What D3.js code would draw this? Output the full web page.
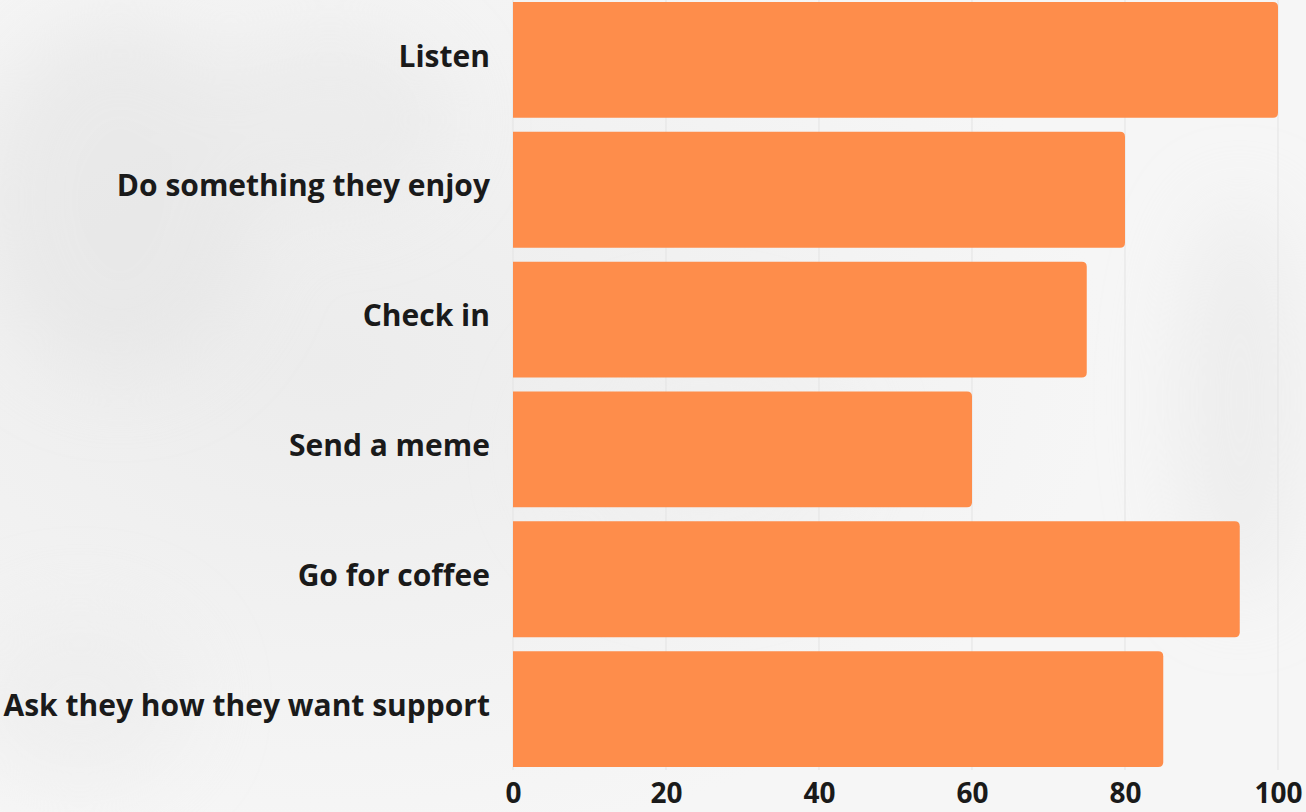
<!DOCTYPE html>
<html>
<head>
<meta charset="utf-8">
<script src="https://cdn.jsdelivr.net/npm/d3@7"></script>
<style>
html,body{margin:0;padding:0;background:#f4f4f4;}
svg{display:block;}
</style>
</head>
<body>
<svg id="chart" width="1306" height="812"></svg>
<script>
const categories = ["Listen","Do something they enjoy","Check in","Send a meme","Go for coffee","Ask they how they want support"];
const values = [100, 80, 75, 60, 95, 85];
const tickValues = [0, 20, 40, 60, 80, 100];

const W = 1306, H = 812;
const svg = d3.select("#chart");
const defs = svg.append("defs");

// soft photographic-like background
const bg = defs.append("radialGradient").attr("id","bgL").attr("cx","0.25").attr("cy","0.45").attr("r","0.6");
bg.append("stop").attr("offset","0").attr("stop-color","#ececec");
bg.append("stop").attr("offset","1").attr("stop-color","#f6f6f6");
svg.append("rect").attr("width",W).attr("height",H).attr("fill","url(#bgL)");
const blur = defs.append("filter").attr("id","blur").attr("x","-50%").attr("y","-50%").attr("width","200%").attr("height","200%");
blur.append("feGaussianBlur").attr("stdDeviation",40);
svg.append("g").attr("filter","url(#blur)").attr("opacity",0.5)
  .selectAll("ellipse").data([[120,200,140,180,"#e2e2e2"],[330,120,120,90,"#e6e6e6"],[1240,400,60,200,"#e4e4e4"],[80,700,110,90,"#eaeaea"],[700,450,150,120,"#efefef"]])
  .join("ellipse").attr("cx",d=>d[0]).attr("cy",d=>d[1]).attr("rx",d=>d[2]).attr("ry",d=>d[3]).attr("fill",d=>d[4]);

const x = d3.scaleLinear().domain([0,100]).range([513,1278]);
const y = d3.scaleBand().domain(categories).range([2,767]).paddingInner(0.108).paddingOuter(0);

// gridlines
svg.append("g").selectAll("line").data(tickValues).join("line")
  .attr("x1",d=>x(d)).attr("x2",d=>x(d)).attr("y1",0).attr("y2",770)
  .attr("stroke","#e3e3e3").attr("stroke-width",1);

// bars with rounded right end
const r = 5;
svg.append("g").selectAll("path").data(categories).join("path")
  .attr("fill","#fe8d4b")
  .attr("d",(c,i)=>{
    const x0 = x(0), x1 = x(values[i]), y0 = y(c), h = y.bandwidth();
    return `M${x0},${y0}H${x1-r}Q${x1},${y0} ${x1},${y0+r}V${y0+h-r}Q${x1},${y0+h} ${x1-r},${y0+h}H${x0}Z`;
  });

// category axis
const yAxis = svg.append("g").attr("transform","translate(490,-3)")
  .call(d3.axisLeft(y).tickSize(0).tickPadding(0));
yAxis.select(".domain").remove();
yAxis.selectAll("text").attr("font-family","'Open Sans', sans-serif").attr("font-weight",700)
  .attr("font-size",30).attr("fill","#1a1a1a");

// value axis
const xAxis = svg.append("g").attr("transform","translate(0,783)")
  .call(d3.axisBottom(x).tickValues(tickValues).tickSize(0).tickPadding(0));
xAxis.select(".domain").remove();
xAxis.selectAll("text").attr("font-family","'Open Sans', sans-serif").attr("font-weight",700)
  .attr("font-size",28).attr("fill","#1a1a1a").attr("dy","0.71em");
</script>
</body>
</html>
